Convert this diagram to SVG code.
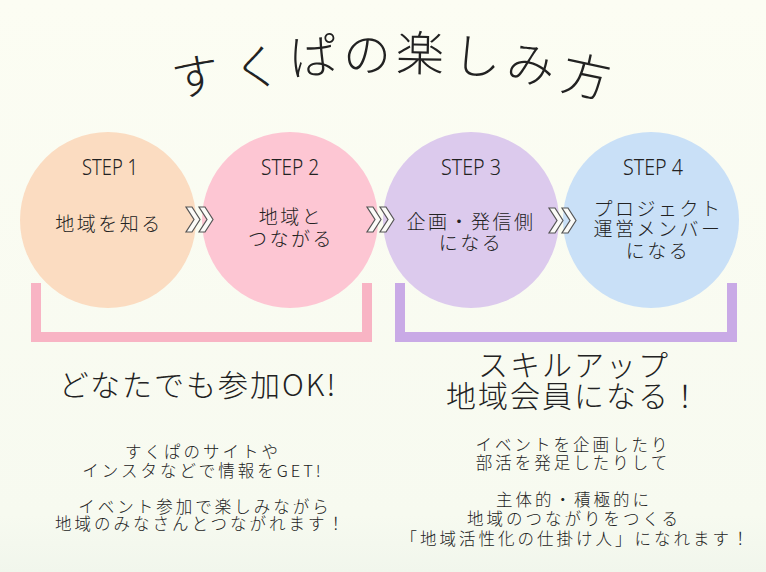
<svg xmlns="http://www.w3.org/2000/svg" width="766" height="572" viewBox="0 0 766 572">
<defs>
<linearGradient id="bg" x1="0" y1="0" x2="0" y2="1">
<stop offset="0" stop-color="#fcfdf3"/>
<stop offset="0.9" stop-color="#f7faf0"/>
<stop offset="1" stop-color="#f1f6ec"/>
</linearGradient>
<path id="chev" d="M0,0 L6,0 L14,12.5 L6,25 L0,25 L8,12.5 Z"/>
</defs>
<style>
text{font-family:"Noto Sans CJK JP","Noto Sans",sans-serif;fill:#222;text-anchor:middle;font-weight:300}
.title{font-size:48px}
.step{font-family:"Noto Sans","Liberation Sans",sans-serif;font-size:22px}
.node{font-size:19px;letter-spacing:2.5px}
.big{font-size:30px;letter-spacing:2px}
.small{font-size:16.5px;letter-spacing:3px}
.chev use{fill:#fbfbf8;stroke:#555;stroke-width:1.2;stroke-linejoin:miter}
.bracket{fill:none;stroke-width:10;stroke-linecap:butt;stroke-linejoin:miter}
</style>
<rect width="766" height="572" fill="url(#bg)"/>

<g id="title">
<text class="title" transform="translate(196,77) rotate(-10)" y="17">す</text>
<text class="title" transform="translate(257,68) rotate(-7)" y="17">く</text>
<text class="title" transform="translate(313,57) rotate(-4)" y="17">ぱ</text>
<text class="title" transform="translate(367,55) rotate(-1)" y="17">の</text>
<text class="title" transform="translate(420,54) rotate(1)" y="17">楽</text>
<text class="title" transform="translate(477,57) rotate(4)" y="17">し</text>
<text class="title" transform="translate(531,65) rotate(8)" y="17">み</text>
<text class="title" transform="translate(586,77) rotate(12)" y="17">方</text>
</g>

<g id="step1">
<circle cx="108" cy="220" r="88" fill="#fbdcc1"/>
<text class="step" x="110" y="175" textLength="56" lengthAdjust="spacingAndGlyphs">STEP 1</text>
<text class="node" x="109" y="231">地域を知る</text>
</g>
<g id="step2">
<circle cx="290" cy="220" r="88" fill="#fdc6d3"/>
<text class="step" x="290" y="175" textLength="58" lengthAdjust="spacingAndGlyphs">STEP 2</text>
<text class="node" x="291" y="224">地域と</text>
<text class="node" x="291" y="246">つながる</text>
</g>
<g id="step3">
<circle cx="471" cy="220" r="88" fill="#dccaed"/>
<text class="step" x="471" y="175" textLength="60" lengthAdjust="spacingAndGlyphs">STEP 3</text>
<text class="node" x="471" y="229">企画・発信側</text>
<text class="node" x="471" y="250">になる</text>
</g>
<g id="step4">
<circle cx="651" cy="220" r="88" fill="#c9e0f7"/>
<text class="step" x="653" y="175" textLength="60" lengthAdjust="spacingAndGlyphs">STEP 4</text>
<text class="node" x="658" y="216">プロジェクト</text>
<text class="node" x="658" y="236">運営メンバー</text>
<text class="node" x="658" y="258">になる</text>
</g>

<g id="connectors">
<g class="chev" transform="translate(186,207)"><use href="#chev"/><use href="#chev" x="13"/></g>
<g class="chev" transform="translate(367,207)"><use href="#chev"/><use href="#chev" x="13"/></g>
<g class="chev" transform="translate(549,208)"><use href="#chev"/><use href="#chev" x="13"/></g>
<path class="bracket" stroke="#f8b4c4" d="M36,283 V337 H367 V283"/>
<path class="bracket" stroke="#c9aae6" d="M400,283 V337 H732 V283"/>
</g>

<g id="left-text">
<text class="big" x="198" y="396">どなたでも参加OK!</text>
<text class="small" x="203" y="458">すくぱのサイトや</text>
<text class="small" x="203" y="477">インスタなどで情報をGET!</text>
<text class="small" x="205" y="513">イベント参加で楽しみながら</text>
<text class="small" x="201" y="530">地域のみなさんとつながれます！</text>
</g>
<g id="right-text">
<text class="big" x="574" y="376">スキルアップ</text>
<text class="big" x="574" y="407">地域会員になる！</text>
<text class="small" x="573" y="451">イベントを企画したり</text>
<text class="small" x="573" y="469">部活を発足したりして</text>
<text class="small" x="574" y="506">主体的・積極的に</text>
<text class="small" x="574" y="525">地域のつながりをつくる</text>
<text class="small" x="576" y="545">「地域活性化の仕掛け人」になれます！</text>
</g>
</svg>
